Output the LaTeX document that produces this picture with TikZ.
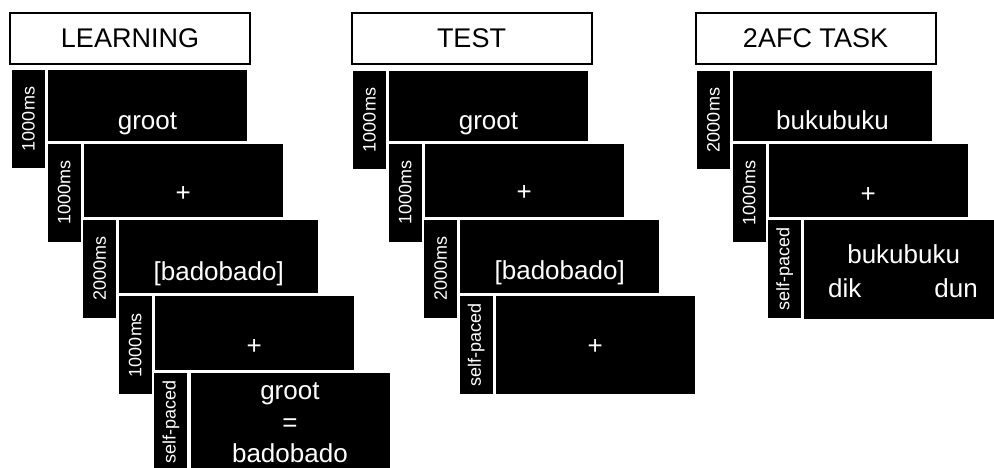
\documentclass[tikz,border=0pt]{standalone}
\usepackage{fontspec}
\setmainfont{Liberation Sans}
\begin{document}
\begin{tikzpicture}[x=1pt,y=-1pt,
  titlebox/.style={draw=black, line width=2pt, fill=white, inner sep=0pt,
    minimum width=240pt, minimum height=51pt, anchor=north west,
    font=\fontsize{27}{30}\selectfont},
  lbl/.style={fill=black, text=white, inner sep=0pt, rotate=90,
    minimum width=98pt, minimum height=33pt,
    font=\fontsize{18}{20}\selectfont},
  scr/.style={fill=black, inner sep=0pt, minimum width=199pt, anchor=north west},
  stim/.style={text=white, inner sep=0pt, anchor=base,
    font=\fontsize{26}{28}\selectfont}]
\useasboundingbox (0,0) rectangle (994,467);
\clip (0,0) rectangle (994,467);

% one trial step: duration label on the left, black screen to its right
% #1 name, #2 left x, #3 top y, #4 screen height, #5 duration text
\newcommand\stimrow[5]{%
  \node[lbl] (#1l) at (#2+16.5,#3+49) {#5};
  \node[scr, minimum height=#4pt] (#1s) at (#2+36,#3) {};
}

% ---------------- LEARNING ----------------
\node[titlebox] (learn) at (9,12) {LEARNING};
\stimrow{la}{12}{70}{70.5}{1000ms}
\stimrow{lb}{47.6}{143.5}{73}{1000ms}
\stimrow{lc}{83.2}{219.5}{73.5}{2000ms}
\stimrow{ld}{118.8}{296}{74}{1000ms}
\stimrow{le}{154.4}{373}{98}{self-paced}
\node[stim] (la1) at (147.5,129) {groot};
\node[stim] (lb1) at (183.1,201) {+};
\node[stim] (lc1) at (218.7,280) {[badobado]};
\node[stim] (ld1) at (254.3,354.6) {+};
\node[stim] (le1) at (289.9,399) {groot};
\node[stim] (le2) at (289.9,431) {=};
\node[stim] (le3) at (289.9,462) {badobado};

% ---------------- TEST ----------------
\node[titlebox] (test) at (350.5,12) {TEST};
\stimrow{ta}{353}{71}{69.5}{1000ms}
\stimrow{tb}{388.6}{143.5}{73}{1000ms}
\stimrow{tc}{424.2}{219.5}{73.5}{2000ms}
\stimrow{td}{459.8}{296}{98}{self-paced}
\node[stim] (ta1) at (488.5,129) {groot};
\node[stim] (tb1) at (524.1,200.6) {+};
\node[stim] (tc1) at (559.7,279) {[badobado]};
\node[stim] (td1) at (595.3,354.6) {+};

% ---------------- 2AFC TASK ----------------
\node[titlebox] (afc) at (694.5,12) {2AFC TASK};
\stimrow{aa}{697}{71}{70}{2000ms}
\stimrow{ab}{732.6}{144}{73}{1000ms}
\stimrow{ac}{768.2}{220}{99}{self-paced}
\node[stim] (aa1) at (832.5,129) {bukubuku};
\node[stim] (ab1) at (868.1,202.6) {+};
\node[stim] (ac1) at (903.7,263) {bukubuku};
\node[stim, anchor=base west] (ac2) at (828,297) {dik};
\node[stim, anchor=base east] (ac3) at (978,297) {dun};
\end{tikzpicture}
\end{document}
